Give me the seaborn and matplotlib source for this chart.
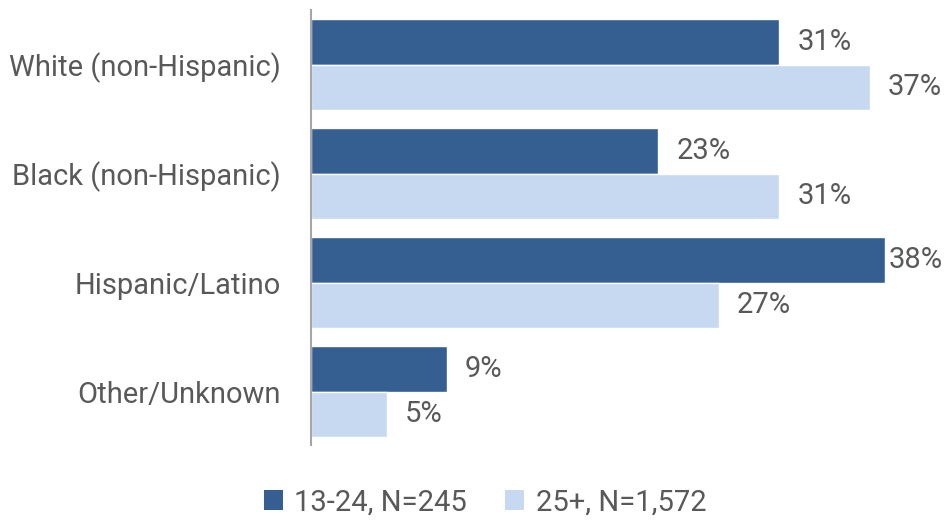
import matplotlib
matplotlib.use("Agg")
import matplotlib.pyplot as plt
import seaborn as sns
import pandas as pd
from matplotlib.patches import Patch

categories = ["White (non-Hispanic)", "Black (non-Hispanic)", "Hispanic/Latino", "Other/Unknown"]
series_names = ["13-24, N=245", "25+, N=1,572"]
young = [31, 23, 38, 9]
older = [37, 31, 27, 5]
colors = ["#355F91", "#C6D9F1"]

sns.set_style("white")
plt.rcParams['font.family'] = ['Roboto', 'DejaVu Sans']
text_color = "#595959"
fs = 21

df = pd.DataFrame({
    "cat": categories * 2,
    "series": [series_names[0]] * 4 + [series_names[1]] * 4,
    "val": young + older,
})

fig = plt.figure(figsize=(9.47, 5.2), dpi=100)
ax = fig.add_axes([311 / 947, 1 - 445 / 520, 1 - 311 / 947, 435 / 520])
sns.barplot(data=df, y="cat", x="val", hue="series", order=categories,
            hue_order=series_names, palette=colors, width=0.83, orient="h",
            ax=ax, legend=False, saturation=1)

xmax = 42.1
ax.set_xlim(0, xmax)
ax.set_ylim(3.49, -0.5)
ax.set_xlabel("")
ax.set_ylabel("")
ax.set_xticks([])
ax.tick_params(axis="y", length=0, pad=22, labelsize=fs, labelcolor=text_color)
for s in ["top", "right", "bottom"]:
    ax.spines[s].set_visible(False)
ax.spines["left"].set_color("#A6A6A6")
ax.spines["left"].set_linewidth(1.5)

for cont in ax.containers:
    for bar in cont:
        v = bar.get_width()
        yc = bar.get_y() + bar.get_height() / 2
        x = min(v + 1.2, xmax - 3.85)
        ax.text(x, yc, f"{v:.0f}%", ha="left", va="center", fontsize=fs,
                color=text_color, clip_on=False)

handles = [Patch(facecolor=c, edgecolor="none") for c in colors]
fig.legend(handles, series_names, loc="lower center", bbox_to_anchor=(0.512, -0.043),
           ncol=2, frameon=False, fontsize=fs, labelcolor=text_color,
           handlelength=0.65, handleheight=0.65, handletextpad=0.4, columnspacing=1.3)

fig.savefig("out.png", dpi=100)
